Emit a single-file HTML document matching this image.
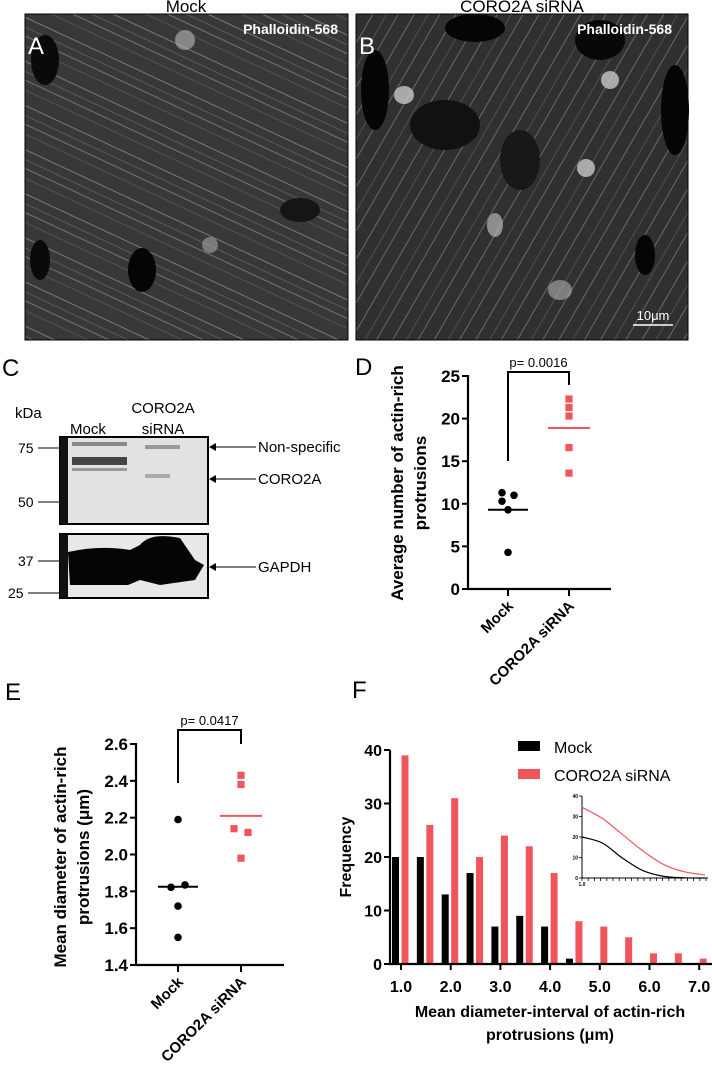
<!DOCTYPE html>
<html><head><meta charset="utf-8"><style>
html,body{margin:0;padding:0;background:#fff;}
svg{display:block;font-family:"Liberation Sans",Arial,sans-serif;}
</style></head><body>
<svg id="fig" width="712" height="1078" viewBox="0 0 712 1078" xmlns="http://www.w3.org/2000/svg">
<defs>
<pattern id="fib" width="40" height="40" patternUnits="userSpaceOnUse" patternTransform="rotate(25)">
<rect width="40" height="40" fill="#383838"/>
<line x1="0" y1="5" x2="40" y2="5" stroke="#7a7a7a" stroke-width="1"/>
<line x1="0" y1="14" x2="40" y2="14" stroke="#5a5a5a" stroke-width="1"/>
<line x1="0" y1="22" x2="40" y2="22" stroke="#888" stroke-width="0.8"/>
<line x1="0" y1="31" x2="40" y2="31" stroke="#525252" stroke-width="1"/>
</pattern>
<pattern id="fib2" width="36" height="36" patternUnits="userSpaceOnUse" patternTransform="rotate(-60)">
<rect width="36" height="36" fill="#303030"/>
<line x1="0" y1="6" x2="36" y2="6" stroke="#6a6a6a" stroke-width="1"/>
<line x1="0" y1="18" x2="36" y2="18" stroke="#505050" stroke-width="1"/>
<line x1="0" y1="28" x2="36" y2="28" stroke="#7a7a7a" stroke-width="0.8"/>
</pattern>
</defs>

<g>
<rect x="25" y="14" width="323" height="326" fill="url(#fib)" stroke="#000"/>
<ellipse cx="45" cy="60" rx="14" ry="25" fill="#0a0a0a"/>
<ellipse cx="140" cy="340" rx="15" ry="22" fill="#050505" opacity="0"/>
<ellipse cx="142" cy="270" rx="14" ry="22" fill="#050505"/>
<ellipse cx="40" cy="260" rx="10" ry="20" fill="#0a0a0a"/>
<ellipse cx="300" cy="210" rx="20" ry="12" fill="#151515"/>
<ellipse cx="185" cy="40" rx="10" ry="10" fill="#bbb" opacity="0.6"/>
<ellipse cx="210" cy="245" rx="8" ry="8" fill="#bbb" opacity="0.5"/>
</g>
<g>
<rect x="356" y="14" width="332" height="326" fill="url(#fib2)" stroke="#000"/>
<ellipse cx="375" cy="90" rx="14" ry="40" fill="#050505"/>
<ellipse cx="475" cy="28" rx="30" ry="14" fill="#050505"/>
<ellipse cx="600" cy="40" rx="25" ry="20" fill="#070707"/>
<ellipse cx="675" cy="110" rx="14" ry="45" fill="#050505"/>
<ellipse cx="645" cy="255" rx="10" ry="20" fill="#050505"/>
<ellipse cx="445" cy="125" rx="35" ry="25" fill="#111"/>
<ellipse cx="520" cy="160" rx="20" ry="30" fill="#181818"/>
<ellipse cx="404" cy="95" rx="10" ry="9" fill="#ddd" opacity="0.7"/>
<ellipse cx="610" cy="80" rx="9" ry="9" fill="#ddd" opacity="0.7"/>
<ellipse cx="586" cy="168" rx="9" ry="9" fill="#ddd" opacity="0.7"/>
<ellipse cx="495" cy="225" rx="8" ry="12" fill="#ccc" opacity="0.6"/>
<ellipse cx="560" cy="290" rx="12" ry="10" fill="#ccc" opacity="0.5"/>
</g>
<text x="186" y="12" text-anchor="middle" font-size="17">Mock</text>
<text x="522" y="12" text-anchor="middle" font-size="17">CORO2A siRNA</text>
<text x="28" y="54" font-size="24" fill="#fff">A</text>
<text x="359" y="54" font-size="24" fill="#fff">B</text>
<text x="338" y="34" text-anchor="end" font-size="14" font-weight="bold" fill="#fff">Phalloidin-568</text>
<text x="672" y="34" text-anchor="end" font-size="14" font-weight="bold" fill="#fff">Phalloidin-568</text>
<line x1="633" y1="325" x2="673" y2="325" stroke="#fff" stroke-width="1.5"/>
<text x="653" y="320" text-anchor="middle" font-size="13" fill="#fff">10μm</text>

<text x="2" y="376" font-size="24">C</text>
<g>
<text x="15" y="418" font-size="15">kDa</text>
<text x="70" y="434" font-size="15">Mock</text>
<text x="163" y="413" text-anchor="middle" font-size="15">CORO2A</text>
<text x="163" y="434" text-anchor="middle" font-size="15">siRNA</text>
<rect x="60" y="437" width="148" height="87" fill="#e2e2e2" stroke="#000" stroke-width="2"/>
<rect x="60" y="437" width="8" height="87" fill="#111"/>
<rect x="72" y="442" width="55" height="4" fill="#888"/>
<rect x="72" y="457" width="55" height="8" fill="#444"/>
<rect x="72" y="468" width="55" height="3" fill="#999"/>
<rect x="145" y="445" width="35" height="4" fill="#999"/>
<rect x="145" y="474" width="25" height="4" fill="#aaa"/>
<rect x="60" y="534" width="148" height="64" fill="#e8e8e8" stroke="#000" stroke-width="2"/>
<rect x="60" y="534" width="8" height="64" fill="#111"/>
<path d="M68 552 Q100 545 130 550 L140 545 Q150 532 180 538 L195 560 L204 565 L195 580 L160 585 L140 580 L128 585 L70 585 Z" fill="#050505"/>
<text x="18" y="453" font-size="14">75</text><line x1="38" y1="448" x2="60" y2="448" stroke="#000"/>
<text x="18" y="507" font-size="14">50</text><line x1="38" y1="502" x2="60" y2="502" stroke="#000"/>
<text x="18" y="566" font-size="14">37</text><line x1="38" y1="561" x2="60" y2="561" stroke="#000"/>
<text x="8" y="598" font-size="14">25</text><line x1="28" y1="593" x2="60" y2="593" stroke="#000"/>
<line x1="214" y1="447" x2="256" y2="447" stroke="#000"/><path d="M209 447 L216 443 L216 451 Z"/>
<text x="258" y="452" font-size="15">Non-specific</text>
<line x1="214" y1="479" x2="256" y2="479" stroke="#000"/><path d="M209 479 L216 475 L216 483 Z"/>
<text x="258" y="484" font-size="15">CORO2A</text>
<line x1="214" y1="567" x2="256" y2="567" stroke="#000"/><path d="M209 567 L216 563 L216 571 Z"/>
<text x="258" y="572" font-size="15">GAPDH</text>
</g>

<text x="355" y="375" font-size="24">D</text>
<text x="5" y="700" font-size="24">E</text>
<text x="352" y="698" font-size="24">F</text>

<g id="panelD"></g>
<g id="panelE"></g>
<g id="panelF"></g>
</svg>
<script>
// Panel D data
const dGroups = ["Mock", "CORO2A siRNA"];
const dMock = [11.3, 10.3, 11.0, 9.3, 4.3];
const dSirna = [22.3, 21.3, 20.3, 16.6, 13.6];
const dMeans = [9.3, 18.9];
const dTicks = [0, 5, 10, 15, 20, 25];
// Panel E data
const eMock = [2.19, 1.822, 1.835, 1.72, 1.55];
const eSirna = [2.43, 2.38, 2.14, 2.12, 1.98];
const eMeans = [1.825, 2.21];
const eTicks = [1.4, 1.6, 1.8, 2.0, 2.2, 2.4, 2.6];
// Panel F data
const fBins = [1.0, 1.5, 2.0, 2.5, 3.0, 3.5, 4.0, 4.5, 5.0, 5.5, 6.0, 6.5, 7.0];
const fMock = [20, 20, 13, 17, 7, 9, 7, 1, 0, 0, 0, 0, 0];
const fSirna = [39, 26, 31, 20, 24, 22, 17, 8, 7, 5, 2, 2, 1];
const fYTicks = [0, 10, 20, 30, 40];
const fXTicks = [1, 2, 3, 4, 5, 6, 7];
const insetX = [1, 2, 3, 4, 5, 6, 7];
const insetMock = [20, 17, 9.5, 3.5, 0.8, 0.1, 0];
const insetSirna = [34.5, 29, 21, 13, 6.5, 3, 1.5];
const insetYTicks = [0, 10, 20, 30, 40];

const NS = "http://www.w3.org/2000/svg";
const RED = "#f2545b";
function mk(parent, tag, attrs, text) {
  const e = document.createElementNS(NS, tag);
  for (const k in attrs) e.setAttribute(k, attrs[k]);
  if (text !== undefined) e.textContent = text;
  parent.appendChild(e);
  return e;
}

function dotPlot(g, o, mockVals, sirnaVals, means, ticks, fmt, offsets) {
  const y = v => o.y0 + (v - o.vmin) / (o.vmax - o.vmin) * (o.y1 - o.y0);
  const xs = [o.xm, o.xs];
  const ax = mk(g, "path", {d: `M${o.ax} ${o.y1-1} V${o.y0} H${o.xend}`, stroke: "#000", "stroke-width": 2.2, fill: "none"});
  
  
  ticks.forEach(t => {
    mk(g, "line", {x1: o.ax - 6, x2: o.ax, y1: y(t), y2: y(t), stroke: "#000", "stroke-width": 2});
    const tl = mk(g, "text", {x: o.ax - 8, y: y(t) + 6, "text-anchor": "end", "font-size": 17, "font-weight": "bold"}, fmt(t));
    
    
  });
  xs.forEach((x, i) => {
    mk(g, "line", {x1: x, x2: x, y1: o.y0, y2: o.y0 + 7, stroke: "#000", "stroke-width": 2});
    const lab = mk(g, "text", {x: x + 6, y: o.y0 + 18, "text-anchor": "end", "font-size": 15, "font-weight": "bold", transform: `rotate(-45 ${x+6} ${o.y0+18})`}, dGroups[i]);
    
    
  });
  mockVals.forEach((v, i) => {
    const c = mk(g, "circle", {cx: o.xm + offsets.m[i], cy: y(v), r: 3.8, fill: "#000"});
    
    
  });
  sirnaVals.forEach((v, i) => {
    const r = mk(g, "rect", {x: o.xs + offsets.s[i] - 3.6, y: y(v) - 3.6, width: 7.2, height: 7.2, fill: RED});
    
    
  });
  const m1 = mk(g, "line", {x1: o.xm - 20, x2: o.xm + 20, y1: y(means[0]), y2: y(means[0]), stroke: "#000", "stroke-width": 2});
  
  
  const m2 = mk(g, "line", {x1: o.xs - 21, x2: o.xs + 21, y1: y(means[1]), y2: y(means[1]), stroke: RED, "stroke-width": 2});
  
  
  const br = mk(g, "path", {d: `M${o.xm} ${o.bm} V${o.bt} H${o.xs} V${o.bs}`, stroke: "#000", "stroke-width": 2, fill: "none"});
  
  
  const pt = mk(g, "text", {x: (o.xm + o.xs) / 2, y: o.bt - 5, "text-anchor": "middle", "font-size": 13}, o.p);
  
  
  o.title.forEach((t, i) => {
    const tx = o.tx + i * 23;
    const te = mk(g, "text", {x: tx, y: o.ty, "text-anchor": "middle", "font-size": 17, "font-weight": "bold", transform: `rotate(-90 ${tx} ${o.ty})`}, t);
    
    
  });
}

dotPlot(document.getElementById("panelD"),
  {ax: 468, y0: 589, y1: 376, vmin: 0, vmax: 25, xend: 611, xm: 508, xs: 569, bt: 372, bm: 461, bs: 385, p: "p= 0.0016",
   title: ["Average number of actin-rich", "protrusions"], tx: 403, ty: 483},
  dMock, dSirna, dMeans, dTicks, t => String(t), {m: [-6, -6, 6, 0, 0], s: [0, 0, 0, 0, 0]});

dotPlot(document.getElementById("panelE"),
  {ax: 136, y0: 965, y1: 744, vmin: 1.4, vmax: 2.6, xend: 284, xm: 178, xs: 241, bt: 730, bm: 783, bs: 744, p: "p= 0.0417",
   title: ["Mean diameter of actin-rich", "protrusions  (μm)"], tx: 66, ty: 857},
  eMock, eSirna, eMeans, eTicks, t => t.toFixed(1), {m: [0, -7, 7, 0, 0], s: [0, 0, -7, 7, 0]});

(function () {
  const g = document.getElementById("panelF");
  const X0 = 401, XU = 49.7, Y0 = 964, YT = 750;
  const x = v => X0 + (v - 1) * XU;
  const y = v => Y0 - v / 40 * (Y0 - YT);
  fMock.forEach((v, i) => {
    if (v <= 0) return;
    const r = mk(g, "rect", {x: x(fBins[i]) - 9, y: y(v), width: 7, height: Y0 - y(v), fill: "#000"});
    
    
  });
  fSirna.forEach((v, i) => {
    const r = mk(g, "rect", {x: x(fBins[i]) + 0.5, y: y(v), width: 7, height: Y0 - y(v), fill: RED});
    
    
  });
  const ax = mk(g, "path", {d: `M390 ${YT} V${Y0} H712`, stroke: "#000", "stroke-width": 2.2, fill: "none"});
  
  
  fYTicks.forEach(t => {
    mk(g, "line", {x1: 384, x2: 390, y1: y(t), y2: y(t), stroke: "#000", "stroke-width": 2});
    const tl = mk(g, "text", {x: 382, y: y(t) + 6, "text-anchor": "end", "font-size": 16, "font-weight": "bold"}, String(t));
    
    
  });
  fXTicks.forEach(t => {
    mk(g, "line", {x1: x(t), x2: x(t), y1: Y0, y2: Y0 + 6, stroke: "#000", "stroke-width": 2});
    const tl = mk(g, "text", {x: x(t), y: Y0 + 28, "text-anchor": "middle", "font-size": 16, "font-weight": "bold"}, t.toFixed(1));
    
    
  });
  const yt = mk(g, "text", {x: 351, y: 857, "text-anchor": "middle", "font-size": 16, "font-weight": "bold", transform: "rotate(-90 351 857)"}, "Frequency");
  
  
  const xt1 = mk(g, "text", {x: 550, y: 1017, "text-anchor": "middle", "font-size": 16, "font-weight": "bold"}, "Mean diameter-interval of actin-rich");
  
  
  const xt2 = mk(g, "text", {x: 550, y: 1040, "text-anchor": "middle", "font-size": 16, "font-weight": "bold"}, "protrusions  (μm)");
  
  
  const l1 = mk(g, "rect", {x: 518, y: 741, width: 22, height: 10, fill: "#000"});
  
  
  const lt1 = mk(g, "text", {x: 554, y: 753, "font-size": 16}, "Mock");
  
  
  const l2 = mk(g, "rect", {x: 518, y: 769, width: 22, height: 10, fill: RED});
  
  
  const lt2 = mk(g, "text", {x: 554, y: 781, "font-size": 16}, "CORO2A siRNA");
  
  
  const IX0 = 582, IXU = 20.5, IY0 = 878, IYT = 796;
  const ix = v => IX0 + (v - 1) * IXU;
  const iy = v => IY0 - v / 40 * (IY0 - IYT);
  const iax = mk(g, "path", {d: `M${IX0} ${IYT} V${IY0} H708`, stroke: "#000", "stroke-width": 1, fill: "none"});
  
  
  insetYTicks.forEach(t => {
    mk(g, "line", {x1: IX0 - 3, x2: IX0, y1: iy(t), y2: iy(t), stroke: "#000", "stroke-width": 0.8});
    mk(g, "text", {x: IX0 - 4, y: iy(t) + 2, "text-anchor": "end", "font-size": 5, "font-weight": "bold"}, String(t));
  });
  for (let k = 0; k <= 20; k++) mk(g, "line", {x1: IX0 + k * 6.2, x2: IX0 + k * 6.2, y1: IY0, y2: IY0 + 3, stroke: "#000", "stroke-width": 0.8});
  mk(g, "text", {x: IX0, y: IY0 + 8, "text-anchor": "middle", "font-size": 5, "font-weight": "bold"}, "1.0");
  function smooth(vals) {
    const p = insetX.map((v, i) => [ix(v), iy(vals[i])]);
    let d = `M${p[0][0]} ${p[0][1]}`;
    for (let i = 0; i < p.length - 1; i++) {
      const p0 = p[Math.max(0, i - 1)], p1 = p[i], p2 = p[i + 1], p3 = p[Math.min(p.length - 1, i + 2)];
      const c1 = [p1[0] + (p2[0] - p0[0]) / 6, p1[1] + (p2[1] - p0[1]) / 6];
      const c2 = [p2[0] - (p3[0] - p1[0]) / 6, p2[1] - (p3[1] - p1[1]) / 6];
      d += ` C${c1[0]} ${c1[1]} ${c2[0]} ${c2[1]} ${p2[0]} ${p2[1]}`;
    }
    return d;
  }
  const c1 = mk(g, "path", {d: smooth(insetSirna), stroke: RED, "stroke-width": 1.2, fill: "none"});
  
  
  const c2 = mk(g, "path", {d: smooth(insetMock), stroke: "#000", "stroke-width": 1.2, fill: "none"});
  
  
})();
</script>
</body></html>
